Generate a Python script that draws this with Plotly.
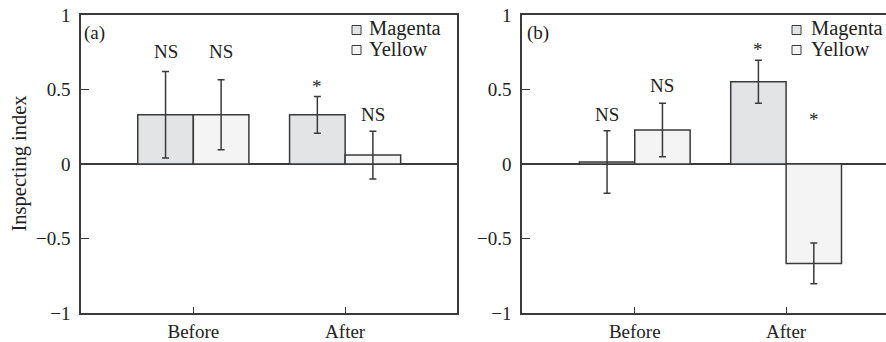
import plotly.graph_objects as go

categories = ["Before", "After"]
series_names = ["Magenta", "Yellow"]

# Panel (a)
a_magenta = [0.33, 0.33]
a_magenta_err = [0.29, 0.123]
a_yellow = [0.33, 0.06]
a_yellow_err = [0.235, 0.16]
a_labels_magenta = ["NS", "*"]
a_labels_yellow = ["NS", "NS"]
a_label_y_magenta = [0.755, 0.52]
a_label_y_yellow = [0.755, 0.335]

# Panel (b)
b_magenta = [0.013, 0.552]
b_magenta_err = [0.21, 0.145]
b_yellow = [0.228, -0.667]
b_yellow_err = [0.18, 0.137]
b_labels_magenta = ["NS", "*"]
b_labels_yellow = ["NS", "*"]
b_label_y_magenta = [0.335, 0.77]
b_label_y_yellow = [0.53, 0.30]

y_ticks = [-1, -0.5, 0, 0.5, 1]
y_ticktext = ["\u22121", "\u22120.5", "0", "0.5", "1"]

FONT = "Liberation Serif"
DARK = "#3a3a3a"
TXT = "#222"
FILL_M = "#e3e4e6"
FILL_Y = "#f4f4f4"

W, H = 886, 342
fig = go.Figure()

panels = [
    dict(m=a_magenta, me=a_magenta_err, yv=a_yellow, ye=a_yellow_err,
         lm=a_labels_magenta, ly=a_labels_yellow, lym=a_label_y_magenta, lyy=a_label_y_yellow,
         xa="x", ya="y"),
    dict(m=b_magenta, me=b_magenta_err, yv=b_yellow, ye=b_yellow_err,
         lm=b_labels_magenta, ly=b_labels_yellow, lym=b_label_y_magenta, lyy=b_label_y_yellow,
         xa="x2", ya="y2"),
]

annotations = []
shapes = []
for i, p in enumerate(panels):
    for name, vals, errs, fill in [(series_names[0], p["m"], p["me"], FILL_M),
                                   (series_names[1], p["yv"], p["ye"], FILL_Y)]:
        fig.add_trace(go.Bar(
            x=categories, y=vals, name=name, xaxis=p["xa"], yaxis=p["ya"],
            marker=dict(color=fill, line=dict(color=DARK, width=1.5)),
            error_y=dict(type="data", array=errs, visible=True, color=DARK,
                         thickness=1.5, width=3.5),
            showlegend=False, hoverinfo="skip",
        ))
    off = 0.183
    for j in range(len(categories)):
        annotations.append(dict(x=j - off, y=p["lym"][j], xref=p["xa"], yref=p["ya"],
                                text=p["lm"][j], showarrow=False,
                                xanchor="center", yanchor="middle",
                                font=dict(family=FONT, size=19, color=TXT)))
        annotations.append(dict(x=j + off, y=p["lyy"][j], xref=p["xa"], yref=p["ya"],
                                text=p["ly"][j], showarrow=False,
                                xanchor="center", yanchor="middle",
                                font=dict(family=FONT, size=19, color=TXT)))

# domains (paper)
ya_dom = [1 - 313 / H, 1 - 15 / H]
xa_dom = [81 / W, 456.7 / W]
xb_dom = [522 / W, 1.0]

common_x = dict(type="category", showline=True, linecolor=DARK, linewidth=1.5,
                mirror=True, ticks="inside", ticklen=6, tickwidth=1.3, tickcolor=DARK,
                showgrid=False, zeroline=False, automargin=False,
                tickfont=dict(family=FONT, size=19, color=TXT))
common_y = dict(range=[-1, 1], tickvals=y_ticks, ticktext=y_ticktext,
                showline=True, linecolor=DARK, linewidth=1.5,
                ticks="inside", ticklen=8, tickwidth=1.3, tickcolor=DARK,
                showgrid=False, zeroline=True, zerolinecolor=DARK, zerolinewidth=1.5,
                ticklabelstandoff=5, automargin=False,
                tickfont=dict(family=FONT, size=19, color=TXT))

fig.update_layout(
    width=W, height=H, margin=dict(l=0, r=0, t=0, b=0, autoexpand=False),
    paper_bgcolor="white", plot_bgcolor="white",
    barmode="group", bargap=0.268, bargroupgap=0,
    xaxis=dict(common_x, domain=xa_dom, range=[-0.74, 1.735], anchor="y"),
    yaxis=dict(common_y, domain=ya_dom, mirror=True, anchor="x"),
    xaxis2=dict(common_x, domain=xb_dom, range=[-0.745, 1.66], anchor="y2"),
    yaxis2=dict(common_y, domain=ya_dom, mirror=False, anchor="x2"),
)

# y axis title
annotations.append(dict(x=18.5 / W, y=1 - 164 / H, xref="paper", yref="paper",
                        text="Inspecting index", textangle=-90, showarrow=False,
                        xanchor="center", yanchor="middle",
                        font=dict(family=FONT, size=20.5, color=TXT)))

# panel tags and legends
for tag_x, sq_x, txt_x, tag in [(82, 352, 367, "(a)"), (525, 792, 809, "(b)")]:
    annotations.append(dict(x=tag_x / W, y=1 - 33 / H, xref="paper", yref="paper",
                            text=tag, showarrow=False, xanchor="left", yanchor="middle",
                            font=dict(family=FONT, size=19, color=TXT)))
    for k, (name, fill) in enumerate([(series_names[0], FILL_M), (series_names[1], FILL_Y)]):
        cy = 30 + k * 20
        shapes.append(dict(type="rect", xref="paper", yref="paper",
                           x0=sq_x / W, x1=(sq_x + 9) / W,
                           y0=1 - (cy + 4.5) / H, y1=1 - (cy - 4.5) / H,
                           fillcolor=fill, line=dict(color=DARK, width=1)))
        annotations.append(dict(x=txt_x / W, y=1 - (cy - 1) / H, xref="paper", yref="paper",
                                text=name, showarrow=False, xanchor="left", yanchor="middle",
                                font=dict(family=FONT, size=20.5, color=TXT)))

fig.update_layout(annotations=annotations, shapes=shapes)
fig.write_html("out.html", config={"displayModeBar": False},
               post_script="document.body.style.margin='0';")
